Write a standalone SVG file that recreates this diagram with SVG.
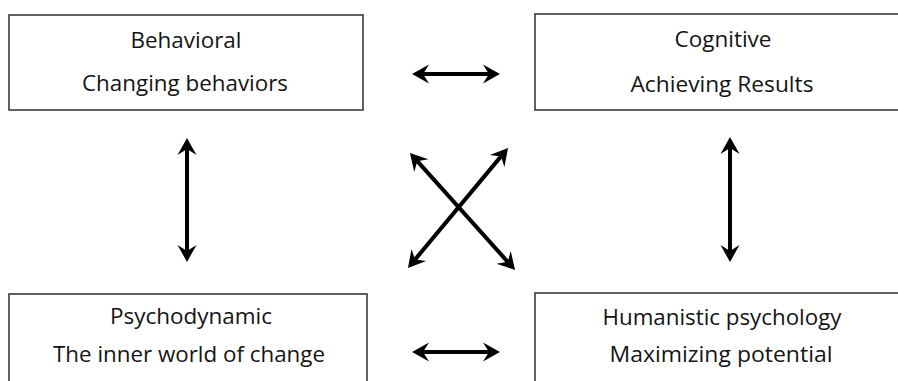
<svg xmlns="http://www.w3.org/2000/svg" width="898" height="381" viewBox="0 0 898 381">
  <defs>
    <style>
      .box { fill: #ffffff; stroke: #3a3a36; stroke-width: 1.6; }
      .label { font-family: "Open Sans", "Liberation Sans", sans-serif; font-size: 21px; fill: #141414; text-anchor: middle; }
      .link { fill: none; stroke: #000000; stroke-width: 4; }
    </style>
    <!-- notched arrowhead; reference point sits at the notch -->
    <marker id="head" markerUnits="userSpaceOnUse" viewBox="-7 -10 20 20" markerWidth="20" markerHeight="20" refX="0" refY="0" orient="auto-start-reverse">
      <path d="M -6 -9.5 L 11 0 L -6 9.5 L 0 0 Z" fill="#000000"/>
    </marker>
  </defs>

  <rect width="898" height="381" fill="#ffffff"/>

  <g id="behavioral">
    <rect class="box" x="9" y="15" width="354" height="95"/>
    <text class="label" x="186" y="48" textLength="111" lengthAdjust="spacingAndGlyphs">Behavioral</text>
    <text class="label" x="185" y="91" textLength="206" lengthAdjust="spacingAndGlyphs">Changing behaviors</text>
  </g>

  <g id="cognitive">
    <rect class="box" x="535" y="14" width="380" height="96"/>
    <text class="label" x="723" y="47" textLength="97" lengthAdjust="spacingAndGlyphs">Cognitive</text>
    <text class="label" x="722" y="92" textLength="183" lengthAdjust="spacingAndGlyphs">Achieving Results</text>
  </g>

  <g id="psychodynamic">
    <rect class="box" x="9" y="294" width="358" height="100"/>
    <text class="label" x="191" y="324" textLength="162" lengthAdjust="spacingAndGlyphs">Psychodynamic</text>
    <text class="label" x="189" y="362" textLength="272" lengthAdjust="spacingAndGlyphs">The inner world of change</text>
  </g>

  <g id="humanistic">
    <rect class="box" x="535" y="293" width="380" height="100"/>
    <text class="label" x="722" y="325" textLength="239" lengthAdjust="spacingAndGlyphs">Humanistic psychology</text>
    <text class="label" x="721" y="362" textLength="223" lengthAdjust="spacingAndGlyphs">Maximizing potential</text>
  </g>

  <g id="connectors">
    <path class="link" d="M 423 74 L 489 74" marker-start="url(#head)" marker-end="url(#head)"/>
    <path class="link" d="M 423 352 L 489 352" marker-start="url(#head)" marker-end="url(#head)"/>
    <path class="link" d="M 187 149 L 187 251" marker-start="url(#head)" marker-end="url(#head)"/>
    <path class="link" d="M 730 148 L 730 251" marker-start="url(#head)" marker-end="url(#head)"/>
    <path class="link" d="M 417.3 161.2 L 507.7 261.8" marker-start="url(#head)" marker-end="url(#head)"/>
    <path class="link" d="M 501 156.4 L 415 259.6" marker-start="url(#head)" marker-end="url(#head)"/>
  </g>
</svg>
